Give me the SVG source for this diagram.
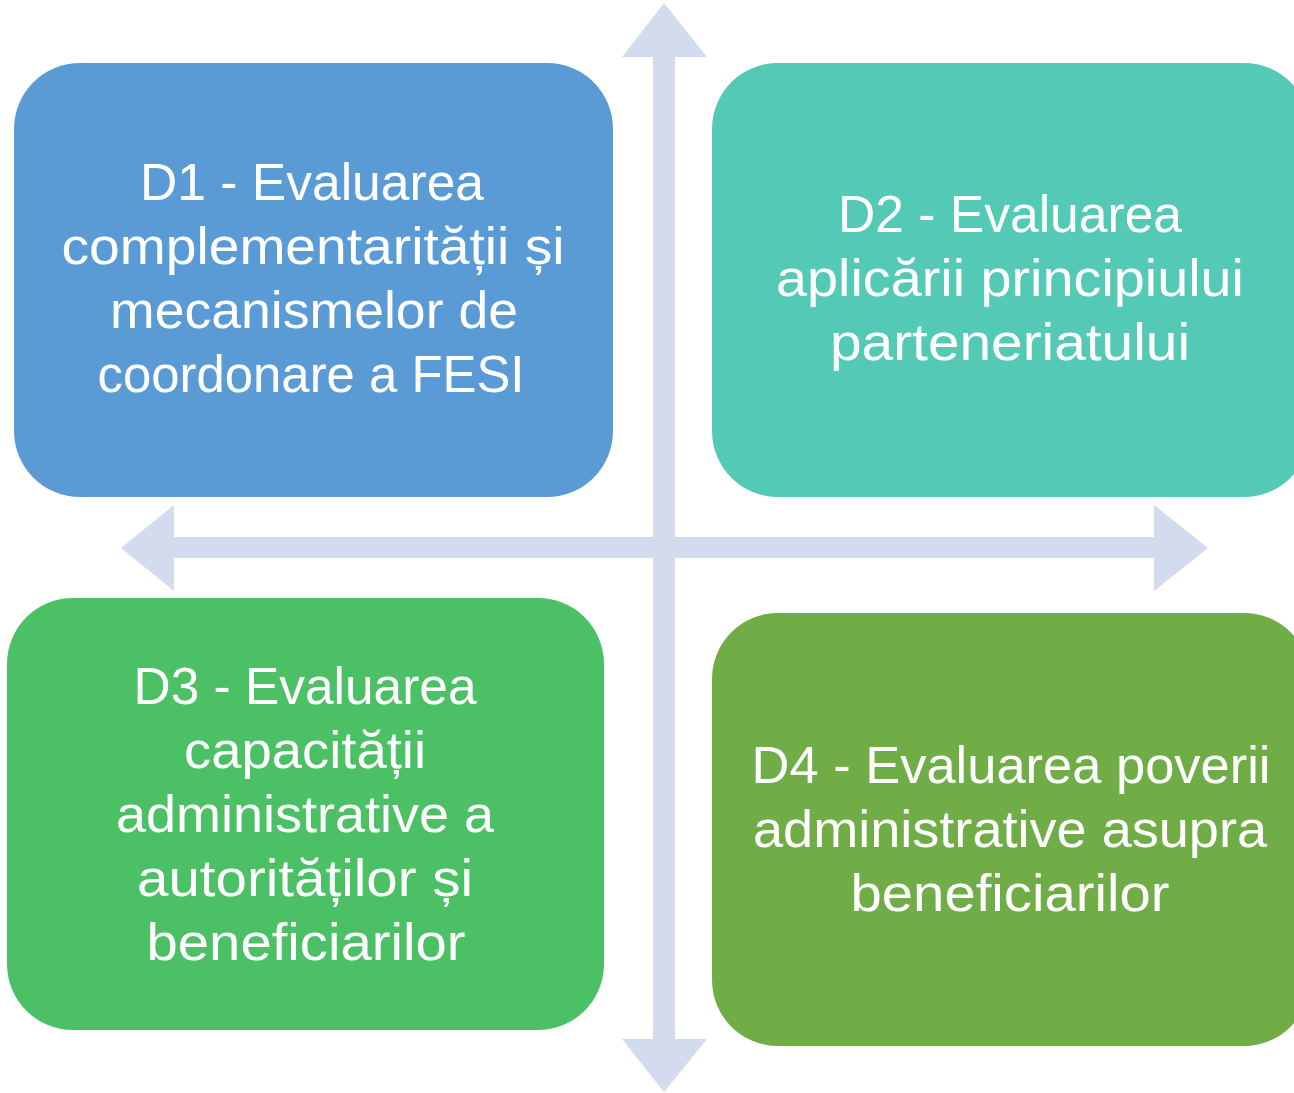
<svg xmlns="http://www.w3.org/2000/svg" width="1294" height="1093" viewBox="0 0 1294 1093">
<style>
.arr{fill:#D2DCEE}
.lbl{font-family:"Liberation Sans",Arial,sans-serif;font-size:52px;fill:#FFFFFF;text-anchor:middle}
</style>
<rect width="1294" height="1093" fill="#FFFFFF"/>
<g id="connectors">
<polygon class="arr" points="664,3 707,57 675,57 675,1039 707,1039 664,1092 622,1039 653,1039 653,57 622,57"/>
<polygon class="arr" points="121,548 174,505 174,537 1154,537 1154,505 1208,548 1154,591 1154,558 174,558 174,591"/>
</g>
<g id="d1">
<rect x="14" y="63" width="599" height="434" rx="66" ry="66" fill="#5B9BD5"/>
<text class="lbl" x="312" y="200" textLength="344" lengthAdjust="spacingAndGlyphs">D1 - Evaluarea</text>
<text class="lbl" x="313" y="264" textLength="503" lengthAdjust="spacingAndGlyphs">complementarității și</text>
<text class="lbl" x="314" y="328" textLength="408" lengthAdjust="spacingAndGlyphs">mecanismelor de</text>
<text class="lbl" x="311" y="392" textLength="427" lengthAdjust="spacingAndGlyphs">coordonare a FESI</text>
</g>
<g id="d2">
<rect x="712" y="63" width="598" height="434" rx="66" ry="66" fill="#54C9B6"/>
<text class="lbl" x="1010" y="232" textLength="344" lengthAdjust="spacingAndGlyphs">D2 - Evaluarea</text>
<text class="lbl" x="1010" y="296" textLength="468" lengthAdjust="spacingAndGlyphs">aplicării principiului</text>
<text class="lbl" x="1010" y="360" textLength="360" lengthAdjust="spacingAndGlyphs">parteneriatului</text>
</g>
<g id="d3">
<rect x="7" y="598" width="597" height="432" rx="66" ry="66" fill="#4BC065"/>
<text class="lbl" x="305" y="704" textLength="343" lengthAdjust="spacingAndGlyphs">D3 - Evaluarea</text>
<text class="lbl" x="305" y="768" textLength="242" lengthAdjust="spacingAndGlyphs">capacității</text>
<text class="lbl" x="305" y="832" textLength="378" lengthAdjust="spacingAndGlyphs">administrative a</text>
<text class="lbl" x="305" y="896" textLength="336" lengthAdjust="spacingAndGlyphs">autorităților și</text>
<text class="lbl" x="306" y="960" textLength="319" lengthAdjust="spacingAndGlyphs">beneficiarilor</text>
</g>
<g id="d4">
<rect x="712" y="613" width="598" height="433" rx="66" ry="66" fill="#70AD47"/>
<text class="lbl" x="1011" y="783" textLength="519" lengthAdjust="spacingAndGlyphs">D4 - Evaluarea poverii</text>
<text class="lbl" x="1010" y="847" textLength="514" lengthAdjust="spacingAndGlyphs">administrative asupra</text>
<text class="lbl" x="1010" y="911" textLength="319" lengthAdjust="spacingAndGlyphs">beneficiarilor</text>
</g>
</svg>
